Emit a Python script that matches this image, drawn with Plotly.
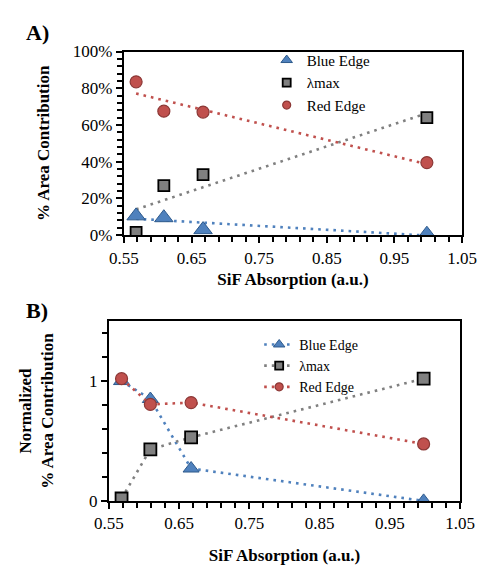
import numpy as np
import plotly.graph_objects as go

# ---- data ----
sif_abs = [0.568, 0.609, 0.667, 0.998]

# Panel A: % area contribution
blue_edge_pct = [10.5, 9.5, 3.0, 0.5]
lmax_pct = [1.5, 27.0, 33.0, 64.0]
red_edge_pct = [83.5, 67.5, 67.0, 39.5]

# Panel B: normalized % area contribution
blue_edge_norm = [1.0, 0.85, 0.27, 0.0]
lmax_norm = [0.02, 0.43, 0.53, 1.02]
red_edge_norm = [1.02, 0.805, 0.82, 0.475]

series_names = ["Blue Edge", "\u03bbmax", "Red Edge"]

# ---- styling ----
W, H = 493, 565
FONT = "Liberation Serif, Times New Roman, serif"
BLUE, BLUE_EDGE = "#4F81BD", "#2E5A8C"
GRAY, GRAY_EDGE = "#808080", "#000000"
RED, RED_EDGE = "#C0504D", "#8C3836"
DOT = "2.6px,5px"

styles = [
    dict(symbol="triangle-up", color=BLUE, edge=BLUE_EDGE, ew=1.0),
    dict(symbol="square", color=GRAY, edge=GRAY_EDGE, ew=1.8),
    dict(symbol="circle", color=RED, edge=RED_EDGE, ew=1.2),
]
sizes_a = [16, 11, 12]
sizes_b = [14, 12, 12]


def fx(px0, px1):
    return [px0 / W, px1 / W]


def fy(top, bottom):
    return [(H - bottom) / H, (H - top) / H]


fig = go.Figure()

# Panel A: scatter markers with linear trendlines
for name, ys, st, sz in zip(series_names, [blue_edge_pct, lmax_pct, red_edge_pct], styles, sizes_a):
    slope, icpt = np.polyfit(sif_abs, ys, 1)
    xt = np.array([min(sif_abs), max(sif_abs)])
    fig.add_trace(go.Scatter(
        x=xt, y=slope * xt + icpt, mode="lines", xaxis="x", yaxis="y",
        line=dict(color=st["color"], width=2.6, dash=DOT), showlegend=False, hoverinfo="skip"))
for name, ys, st, sz in zip(series_names, [blue_edge_pct, lmax_pct, red_edge_pct], styles, sizes_a):
    fig.add_trace(go.Scatter(
        x=sif_abs, y=ys, mode="markers", xaxis="x", yaxis="y", showlegend=False,
        marker=dict(symbol=st["symbol"], size=sz, color=st["color"],
                    line=dict(color=st["edge"], width=st["ew"]))))
    # legend entry
    fig.add_trace(go.Scatter(
        x=[None], y=[None], mode="markers", xaxis="x", yaxis="y", name=name, legend="legend",
        marker=dict(symbol=st["symbol"], size=10 if st["symbol"] == "triangle-up" else 8,
                    color=st["color"], line=dict(color=st["edge"], width=st["ew"]))))

# Panel B: connected markers
for name, ys, st, sz in zip(series_names, [blue_edge_norm, lmax_norm, red_edge_norm], styles, sizes_b):
    fig.add_trace(go.Scatter(
        x=sif_abs, y=ys, mode="lines+markers", xaxis="x2", yaxis="y2", showlegend=False,
        line=dict(color=st["color"], width=2.6, dash=DOT),
        marker=dict(symbol=st["symbol"], size=sz, color=st["color"],
                    line=dict(color=st["edge"], width=st["ew"]))))
    fig.add_trace(go.Scatter(
        x=[None], y=[None], mode="lines+markers", xaxis="x2", yaxis="y2", name=name, legend="legend2",
        line=dict(color=st["color"], width=2.6, dash=DOT),
        marker=dict(symbol=st["symbol"], size=10 if st["symbol"] == "triangle-up" else 8,
                    color=st["color"], line=dict(color=st["edge"], width=st["ew"]))))

axis_common = dict(
    showline=True, linecolor="black", linewidth=2, mirror=True,
    ticks="outside", ticklen=6, tickwidth=1.5, tickcolor="black",
    showgrid=False, zeroline=False,
    tickfont=dict(family=FONT, size=17, color="black"),
)
title_font = dict(family=FONT, size=17, color="black", weight="bold")


def minor(step, start):
    return dict(ticks="outside", ticklen=5, dtick=step, tick0=start, tickcolor="black", tickwidth=1.5)


xaxis_common = dict(axis_common, range=[0.55, 1.05], tick0=0.55, dtick=0.1, tickformat=".2f",
                    minor=minor(0.02, 0.55))

fig.update_layout(
    width=W, height=H,
    margin=dict(l=0, r=0, t=0, b=0),
    paper_bgcolor="white", plot_bgcolor="white",
    font=dict(family=FONT, color="black"),
    xaxis=dict(xaxis_common, domain=fx(116, 476), anchor="y",
               title=dict(text="SiF Absorption (a.u.)", font=title_font, standoff=7)),
    yaxis=dict(axis_common, domain=fy(44, 234), anchor="x", range=[0, 100],
               tick0=0, dtick=20, ticksuffix="%", minor=minor(4, 0),
               title=dict(text="% Area Contribution", font=title_font, standoff=19)),
    xaxis2=dict(xaxis_common, domain=fx(100, 474), anchor="y2",
                title=dict(text="SiF Absorption (a.u.)", font=title_font, standoff=19)),
    yaxis2=dict(axis_common, domain=fy(323, 509), anchor="x2", range=[0, 1.5],
                tick0=0, dtick=1, minor=minor(0.2, 0),
                title=dict(text="Normalized<br>% Area Contribution", font=title_font, standoff=31)),
    legend=dict(x=268 / W, y=1 - 36 / H, xanchor="left", yanchor="top",
                bgcolor="rgba(0,0,0,0)", font=dict(family=FONT, size=15, color="black"),
                itemwidth=30, tracegroupgap=0),
    legend2=dict(x=260 / W, y=1 - 331 / H, xanchor="left", yanchor="top",
                 bgcolor="rgba(0,0,0,0)", font=dict(family=FONT, size=14, color="black"),
                 itemwidth=30, tracegroupgap=0),
    annotations=[
        dict(text="A)", x=10 / W, y=1 - 24 / H, xref="paper", yref="paper", xanchor="left",
             yanchor="middle", showarrow=False, font=dict(family=FONT, size=22, color="black", weight="bold")),
        dict(text="B)", x=10 / W, y=1 - 312 / H, xref="paper", yref="paper", xanchor="left",
             yanchor="middle", showarrow=False, font=dict(family=FONT, size=22, color="black", weight="bold")),
    ],
)

fig.write_html("out.html")
